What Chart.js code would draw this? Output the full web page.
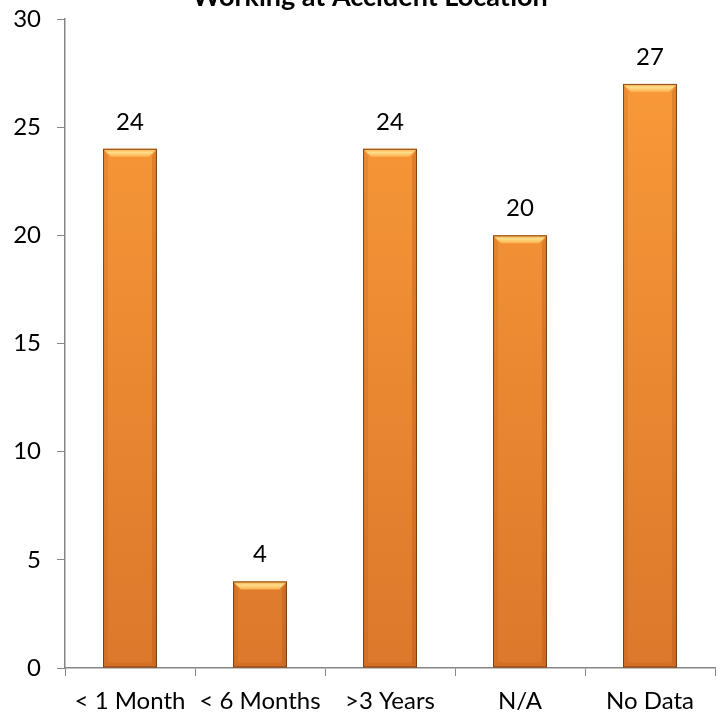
<!DOCTYPE html>
<html>
<head>
<meta charset="utf-8">
<script src="https://cdn.jsdelivr.net/npm/chart.js@4.4.0/dist/chart.umd.min.js"></script>
<style>
html,body{margin:0;padding:0;background:#fff;}
#wrap{width:725px;height:714px;position:relative;}
</style>
</head>
<body>
<div id="wrap"><canvas id="c" width="725" height="714"></canvas></div>
<script>
const categories = ["< 1 Month", "< 6 Months", ">3 Years", "N/A", "No Data"];
const values = [24, 4, 24, 20, 27];
const yTicks = [0, 5, 10, 15, 20, 25, 30];
const titleText = "Working at Accident Location";

const FONT = "Lato, 'Open Sans', 'Liberation Sans', sans-serif";

function barGradient(ctx) {
  const chart = ctx.chart;
  const area = chart.chartArea;
  if (!area) return '#F29035';
  const g = chart.ctx.createLinearGradient(0, area.top, 0, area.bottom);
  g.addColorStop(0, '#FB9C3A');
  g.addColorStop(1, '#DC782B');
  return g;
}

const decor = {
  id: 'decor',
  afterDatasetsDraw(chart) {
    const c = chart.ctx;
    const meta = chart.getDatasetMeta(0);
    c.save();
    meta.data.forEach((bar, i) => {
      const left = bar.x - bar.width / 2, right = bar.x + bar.width / 2;
      const top = bar.y, bottom = bar.base;
      const b = 8, s = 5;
      c.beginPath();
      c.moveTo(left, top); c.lineTo(right, top); c.lineTo(right - b, top + b); c.lineTo(left + b, top + b); c.closePath();
      const hg = c.createLinearGradient(0, top, 0, top + b);
      hg.addColorStop(0, '#F9A640'); hg.addColorStop(0.45, '#FFDD8A'); hg.addColorStop(1, '#FCB04E');
      c.fillStyle = hg; c.fill();
      c.beginPath();
      c.moveTo(right, top); c.lineTo(right, bottom); c.lineTo(right - s, bottom - s); c.lineTo(right - s, top + b); c.closePath();
      c.fillStyle = 'rgba(140,60,10,0.22)'; c.fill();
      c.beginPath();
      c.moveTo(left, top); c.lineTo(left, bottom); c.lineTo(left + s, bottom - s); c.lineTo(left + s, top + b); c.closePath();
      c.fillStyle = 'rgba(140,60,10,0.12)'; c.fill();
      c.beginPath();
      c.moveTo(left, bottom); c.lineTo(right, bottom); c.lineTo(right - s, bottom - s); c.lineTo(left + s, bottom - s); c.closePath();
      c.fillStyle = 'rgba(140,60,10,0.15)'; c.fill();
      c.strokeStyle = 'rgba(110,50,15,0.8)'; c.lineWidth = 1;
      c.strokeRect(left + 0.5, top + 0.5, right - left - 1, bottom - top - 1);
      c.fillStyle = '#000';
      c.font = "24px " + FONT;
      c.textAlign = 'center';
      c.textBaseline = 'middle';
      c.fillText(String(values[i]), bar.x, top - 27);
    });
    c.font = "bold 27px " + FONT;
    c.textAlign = 'center';
    c.textBaseline = 'alphabetic';
    c.fillStyle = '#000';
    c.fillText(titleText, 370, 6);
    c.restore();
  }
};

new Chart(document.getElementById('c'), {
  type: 'bar',
  data: {
    labels: categories,
    datasets: [{
      data: values,
      backgroundColor: barGradient,
      borderWidth: 0,
      barPercentage: 0.415,
      categoryPercentage: 1.0
    }]
  },
  options: {
    responsive: false,
    animation: false,
    layout: { padding: { top: 19, right: 10, left: 13, bottom: 0 } },
    plugins: { legend: { display: false }, title: { display: false }, tooltip: { enabled: false } },
    scales: {
      x: {
        afterFit(axis) { axis.height = 46; },
        grid: { display: true, drawOnChartArea: false, drawTicks: true, tickLength: 8, color: '#868686', offset: true },
        border: { display: true, color: '#868686', width: 1.5 },
        ticks: { color: '#000', font: { family: FONT, size: 24 }, padding: 11, maxRotation: 0, autoSkip: false }
      },
      y: {
        min: 0, max: 30,
        afterFit(axis) { axis.width = 52; axis.paddingTop = 0; axis.paddingBottom = 0; },
        afterBuildTicks(axis) { axis.ticks = yTicks.map(v => ({ value: v })); },
        grid: { display: true, drawOnChartArea: false, drawTicks: true, tickLength: 8, color: '#868686' },
        border: { display: true, color: '#868686', width: 1.5 },
        ticks: { color: '#000', font: { family: FONT, size: 24 }, padding: 16 }
      }
    }
  },
  plugins: [decor]
});
</script>
</body>
</html>
